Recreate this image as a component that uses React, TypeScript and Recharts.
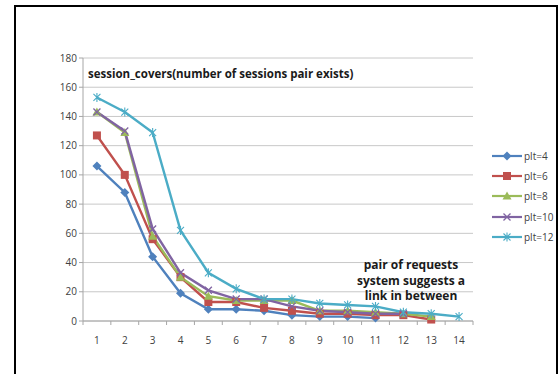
import { LineChart, Line, XAxis, YAxis, CartesianGrid } from 'recharts'

const categories = ['1', '2', '3', '4', '5', '6', '7', '8', '9', '10', '11', '12', '13', '14']
const plt4 = [106, 88, 44, 19, 8, 8, 7, 4, 3, 3, 2]
const plt6 = [127, 100, 56, 30, 13, 13, 9, 7, 5, 5, 4, 4, 1]
const plt8 = [143, 129, 58, 30, 17, 14, 14, 14, 7, 7, 6, 5, 3]
const plt10 = [143, 130, 63, 33, 21, 15, 15, 10, 7, 6, 5, 5]
const plt12 = [153, 143, 129, 62, 33, 22, 15, 15, 12, 11, 10, 6, 5, 3]
const yTicks = [0, 20, 40, 60, 80, 100, 120, 140, 160, 180]

const SERIES = [
  { key: 'plt=4', values: plt4, color: '#4F81BD', shape: 'diamond' },
  { key: 'plt=6', values: plt6, color: '#C0504D', shape: 'square' },
  { key: 'plt=8', values: plt8, color: '#9BBB59', shape: 'triangle' },
  { key: 'plt=10', values: plt10, color: '#8064A2', shape: 'x' },
  { key: 'plt=12', values: plt12, color: '#4BACC6', shape: 'star' },
]

const data = categories.map((c, i) => {
  const row: Record<string, unknown> = { cat: c }
  for (const s of SERIES) row[s.key] = s.values[i]
  return row
})

const FONT = '"Open Sans", "Liberation Sans", sans-serif'
const BAND = 390 / categories.length

function marker(shape: string, cx: number, cy: number, color: string, key?: string) {
  if (shape === 'diamond') {
    return <path key={key} d={`M${cx},${cy - 4.5}L${cx + 4.5},${cy}L${cx},${cy + 4.5}L${cx - 4.5},${cy}Z`} fill={color} />
  }
  if (shape === 'square') {
    return <rect key={key} x={cx - 4} y={cy - 4} width={8} height={8} fill={color} />
  }
  if (shape === 'triangle') {
    return <path key={key} d={`M${cx},${cy - 4.5}L${cx + 4.5},${cy + 3.5}L${cx - 4.5},${cy + 3.5}Z`} fill={color} />
  }
  if (shape === 'x') {
    return (
      <path key={key} d={`M${cx - 3.5},${cy - 3.5}L${cx + 3.5},${cy + 3.5}M${cx + 3.5},${cy - 3.5}L${cx - 3.5},${cy + 3.5}`}
        stroke={color} strokeWidth={1.3} fill="none" />
    )
  }
  return (
    <path key={key} d={`M${cx - 3.5},${cy - 3.5}L${cx + 3.5},${cy + 3.5}M${cx + 3.5},${cy - 3.5}L${cx - 3.5},${cy + 3.5}M${cx},${cy - 4.5}L${cx},${cy + 4.5}`}
      stroke={color} strokeWidth={1.1} fill="none" />
  )
}

function XTick(props: any) {
  const { x, y, payload, index } = props
  return (
    <g>
      <line x1={x - BAND / 2} y1={y - 8} x2={x - BAND / 2} y2={y - 4} stroke="#a6a6a6" />
      {index === categories.length - 1 && (
        <line x1={x + BAND / 2} y1={y - 8} x2={x + BAND / 2} y2={y - 4} stroke="#a6a6a6" />
      )}
      <text x={x} y={y + 15} textAnchor="middle" fontSize={10} fill="#404040" fontFamily={FONT}>
        {payload.value}
      </text>
    </g>
  )
}

function LegendBox() {
  return (
    <div style={{ position: 'absolute', left: 491, top: 146, fontFamily: FONT, fontSize: 10, color: '#404040' }}>
      {SERIES.map((s) => (
        <div key={s.key} style={{ display: 'flex', alignItems: 'center', height: 20.2 }}>
          <svg width={32} height={12}>
            <line x1={1} y1={6} x2={31} y2={6} stroke={s.color} strokeWidth={2.2} />
            {marker(s.shape, 16, 6, s.color)}
          </svg>
          <span style={{ marginLeft: 1 }}>{s.key}</span>
        </div>
      ))}
    </div>
  )
}

export default function App() {
  return (
    <div style={{ position: 'absolute', left: 0, top: 0, width: 558, height: 374, overflow: 'hidden', background: '#fff' }}>
      <div style={{
        position: 'absolute', left: 14, top: 5, width: 540, height: 400,
        borderTop: '2px solid #000', borderLeft: '2px solid #000', borderRight: '2px solid #000',
      }} />
      <div style={{ position: 'absolute', left: 0, top: 0 }}>
        <LineChart width={558} height={374} data={data} margin={{ top: 58, right: 85, bottom: 0, left: 0 }}>
          <CartesianGrid horizontal vertical={false} stroke="#c8c8c8" />
          <XAxis dataKey="cat" height={53} axisLine={{ stroke: '#a6a6a6' }} tickLine={false} tick={<XTick />}
            interval={0} padding={{ left: BAND / 2, right: BAND / 2 }} />
          <YAxis width={83} domain={[0, 180]} ticks={yTicks} axisLine={{ stroke: '#a6a6a6' }}
            tickLine={{ stroke: '#a6a6a6' }} tickSize={4}
            tick={{ fontSize: 10, fill: '#404040', fontFamily: FONT }} />
          {SERIES.map((s) => (
            <Line
              key={s.key}
              dataKey={s.key}
              name={s.key}
              stroke={s.color}
              strokeWidth={2.4}
              isAnimationActive={false}
              connectNulls={false}
              dot={(p: any) => (p.value == null ? <g key={p.index} /> : marker(s.shape, p.cx, p.cy, s.color, `${s.key}-${p.index}`))}
              activeDot={false}
            />
          ))}
        </LineChart>
      </div>
      <LegendBox />
      <div style={{ position: 'absolute', left: 88, top: 66, fontFamily: FONT, fontSize: 11.5, fontWeight: 700, color: '#1a1a1a', whiteSpace: 'nowrap' }}>
        session_covers(number of sessions pair exists)
      </div>
      <div style={{ position: 'absolute', left: 340, top: 257, width: 142, textAlign: 'center', fontFamily: FONT, fontSize: 12, fontWeight: 700, lineHeight: '15.5px', color: '#1a1a1a' }}>
        pair of requests<br />system suggests a<br />link in between
      </div>
    </div>
  )
}
